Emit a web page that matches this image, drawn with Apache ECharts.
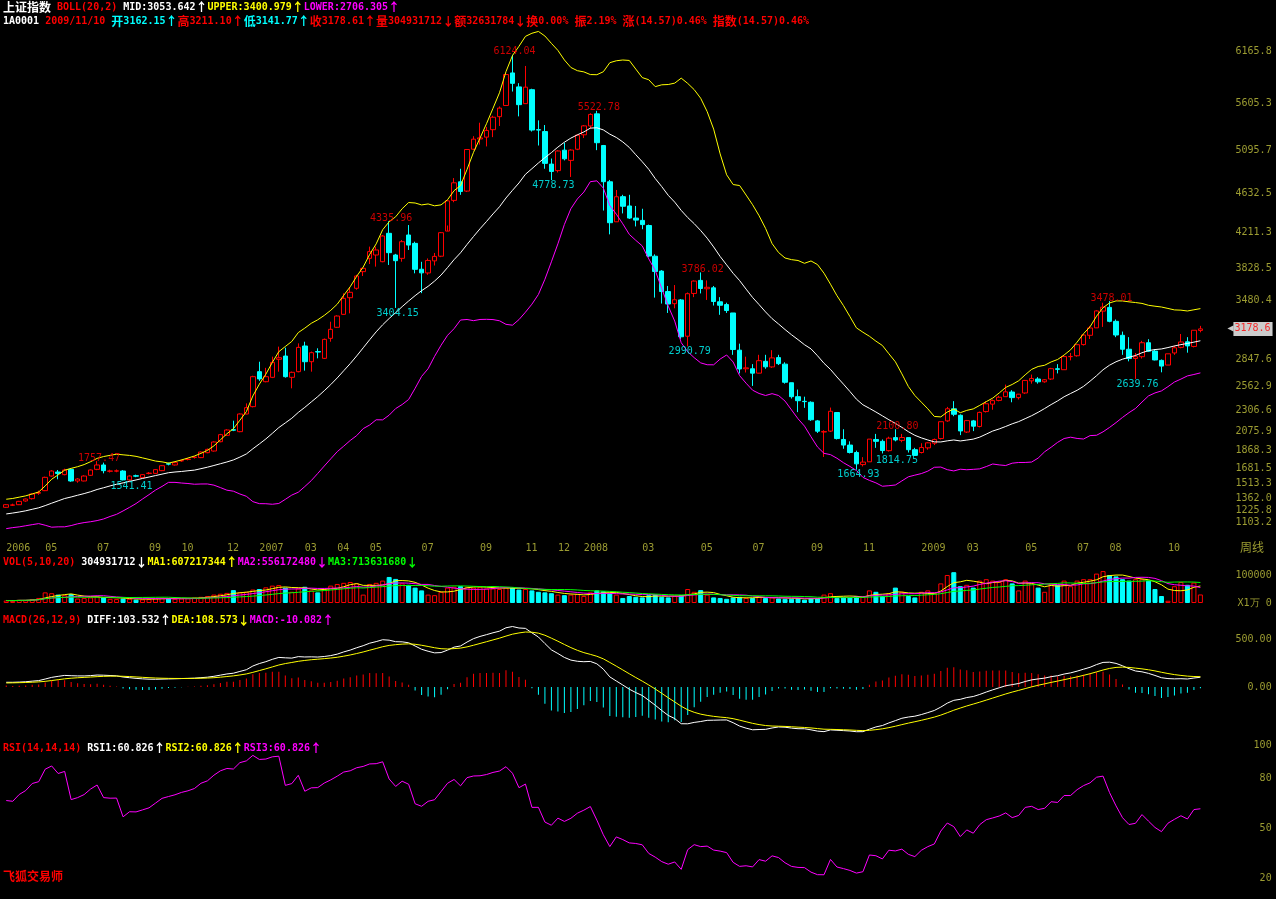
<!DOCTYPE html>
<html><head><meta charset="utf-8">
<script src="https://cdn.jsdelivr.net/npm/echarts@6/dist/echarts.min.js"></script>
<style>html,body{margin:0;padding:0;background:#000;overflow:hidden}#c{width:1276px;height:899px}</style>
</head><body><div id="c"></div>
<script>
// ---------------- data (weekly candles, 上证指数) ----------------
const weekDates = [
'2006-03-20','2006-03-27','2006-04-03','2006-04-10','2006-04-17','2006-04-24','2006-05-08','2006-05-15','2006-05-22','2006-05-29',
'2006-06-05','2006-06-12','2006-06-19','2006-06-26','2006-07-03','2006-07-10','2006-07-17','2006-07-24','2006-07-31','2006-08-07',
'2006-08-14','2006-08-21','2006-08-28','2006-09-04','2006-09-11','2006-09-18','2006-09-25','2006-10-09','2006-10-16','2006-10-23',
'2006-10-30','2006-11-06','2006-11-13','2006-11-20','2006-11-27','2006-12-04','2006-12-11','2006-12-18','2006-12-25','2007-01-01',
'2007-01-08','2007-01-15','2007-01-22','2007-01-29','2007-02-05','2007-02-12','2007-02-26','2007-03-05','2007-03-12','2007-03-19',
'2007-03-26','2007-04-02','2007-04-09','2007-04-16','2007-04-23','2007-04-30','2007-05-07','2007-05-14','2007-05-21','2007-05-28',
'2007-06-04','2007-06-11','2007-06-18','2007-06-25','2007-07-02','2007-07-09','2007-07-16','2007-07-23','2007-07-30','2007-08-06',
'2007-08-13','2007-08-20','2007-08-27','2007-09-03','2007-09-10','2007-09-17','2007-09-24','2007-10-08','2007-10-15','2007-10-22',
'2007-10-29','2007-11-05','2007-11-12','2007-11-19','2007-11-26','2007-12-03','2007-12-10','2007-12-17','2007-12-24','2007-12-31',
'2008-01-07','2008-01-14','2008-01-21','2008-01-28','2008-02-04','2008-02-11','2008-02-18','2008-02-25','2008-03-03','2008-03-10',
'2008-03-17','2008-03-24','2008-03-31','2008-04-07','2008-04-14','2008-04-21','2008-04-28','2008-05-05','2008-05-12','2008-05-19',
'2008-05-26','2008-06-02','2008-06-09','2008-06-16','2008-06-23','2008-06-30','2008-07-07','2008-07-14','2008-07-21','2008-07-28',
'2008-08-04','2008-08-11','2008-08-18','2008-08-25','2008-09-01','2008-09-08','2008-09-15','2008-09-22','2008-10-06','2008-10-13',
'2008-10-20','2008-10-27','2008-11-03','2008-11-10','2008-11-17','2008-11-24','2008-12-01','2008-12-08','2008-12-15','2008-12-22',
'2008-12-29','2009-01-05','2009-01-12','2009-01-19','2009-02-02','2009-02-09','2009-02-16','2009-02-23','2009-03-02','2009-03-09',
'2009-03-16','2009-03-23','2009-03-30','2009-04-06','2009-04-13','2009-04-20','2009-04-27','2009-05-04','2009-05-11','2009-05-18',
'2009-05-25','2009-06-01','2009-06-08','2009-06-15','2009-06-22','2009-06-29','2009-07-06','2009-07-13','2009-07-20','2009-07-27',
'2009-08-03','2009-08-10','2009-08-17','2009-08-24','2009-08-31','2009-09-07','2009-09-14','2009-09-21','2009-09-28','2009-10-05',
'2009-10-12','2009-10-19','2009-10-26','2009-11-02','2009-11-09'];

const opens = [
1261,1283,1289,1329,1354,1412,1440,1597,1640,1612, 1669,1544,1544,1605,1669,1716,1648,1650,1651,1555,
1600,1580,1625,1626,1655,1730,1716,1760,1775,1797, 1795,1848,1866,1966,2035,2095,2074,2264,2343,2719,
2611,2658,2852,2887,2658,2719,2995,2826,2935,2862, 3077,3196,3335,3514,3615,3794,3937,3973,3901,4206,
3973,3937,4188,4098,3820,3780,3910,3960,4230,4560, 4760,4660,5110,5220,5240,5320,5460,5580,5930,5780,
5600,5750,5320,5300,4950,4880,5100,4990,5110,5265, 5360,5490,5150,4760,4330,4600,4500,4370,4345,4290,
3960,3800,3580,3450,3490,3100,3560,3700,3610,3620, 3470,3440,3350,2950,2750,2750,2703,2830,2770,2870,
2800,2600,2450,2400,2390,2190,2070,2080,2280,1990, 1930,1850,1720,1750,1990,1970,1870,2010,1980,2010,
1880,1850,1900,1950,2000,2190,2320,2250,2070,2190, 2130,2290,2370,2410,2450,2500,2440,2490,2620,2640,
2610,2640,2750,2740,2880,2890,3010,3110,3190,3370, 3410,3260,3110,2960,2860,2880,3030,2940,2840,2790,
2920,2980,3040,2990,3162.15];
const highs = [
1295,1300,1330,1355,1410,1440,1590,1660,1662,1676, 1676,1575,1605,1668,1757.47,1741,1665,1668,1660,1605,
1612,1618,1640,1672,1715,1742,1748,1775,1790,1810, 1862,1892,1970,2050,2100,2192,2270,2378,2675,2826,
2760,2880,2988,2977,2720,3023,3041,2935,2970,3075, 3256,3325,3561,3625,3760,3835,4063,4063,4188,4335.96,
3985,4134,4295,4116,3900,3936,3995,4220,4565,4800, 4900,5110,5250,5395,5350,5470,5570,5925,6124.04,5820,
6005,5760,5420,5370,5010,5100,5180,5110,5270,5370, 5497,5522.78,5156,4780,4672,4620,4620,4500,4470,4300,
3980,3810,3640,3650,3500,3570,3700,3786.02,3700,3640, 3520,3460,3350,3020,2880,2800,2900,2900,2950,2900,
2820,2600,2527,2450,2400,2200,2090,2333,2280,2100, 1970,1870,1800,1995,2050,1990,2020,2100.80,2050,2010,
1900,1950,1960,2000,2181,2340,2402,2260,2200,2200, 2290,2400,2420,2460,2580,2520,2480,2630,2688,2660,
2640,2760,2800,2890,2920,3010,3120,3210,3380,3460, 3478.01,3280,3150,3090,2920,3050,3068,2960,2850,2911,
3000,3124,3090,3164,3211.10];
const lows = [
1255,1275,1285,1320,1345,1395,1435,1590,1562,1605, 1535,1525,1540,1598,1660,1626,1635,1638,1550,1541.41,
1585,1575,1615,1620,1650,1712,1710,1750,1765,1785, 1790,1842,1860,1960,2030,2080,2068,2260,2335,2620,
2605,2650,2719,2655,2540,2712,2730,2719,2862,2855, 3041,3190,3330,3346,3600,3747,3876,3848,3895,3866,
3404.15,3901,4027,3776,3563,3760,3860,3950,4290,4540, 4620,4650,5100,5160,5140,5240,5360,5580,5730,5463,
5600,5300,5150,4900,4778.73,4860,4990,4812,5100,5230, 5330,5100,4451,4195,4330,4420,4360,4280,4250,3950,
3515,3451,3350,3400,3071,2990.79,3520,3560,3490,3430, 3330,3350,2900,2700,2710,2566,2700,2750,2760,2790,
2590,2430,2284,2330,2190,2060,1802,2070,1990,1890, 1840,1664.93,1700,1750,1900,1840,1860,1970,1960,1850,
1814.75,1840,1880,1930,1990,2180,2240,2037,2060,2080, 2120,2280,2310,2400,2450,2390,2420,2480,2590,2590,
2600,2630,2700,2740,2840,2880,3000,3070,3190,3200, 3250,3090,2900,2830,2639.76,2860,2930,2840,2712,2790,
2900,2970,2923,2980,3141.77];
const closes = [
1289,1287,1325,1350,1404,1420,1583,1651,1625,1662, 1544,1565,1597,1662,1716,1655,1652,1653,1555,1597,
1596,1612,1628,1666,1708,1725,1741,1763,1778,1800, 1855,1884,1963,2042,2092,2090,2264,2332,2665,2641,
2665,2819,2869,2665,2712,2980,2826,2923,2930,3066, 3174,3317,3507,3572,3747,3830,4009,4027,4177,3998,
3912,4116,4080,3819,3781,3914,3958,4213,4555,4749, 4656,5107,5218,5232,5312,5454,5552,5913,5818,5589,
5777,5316,5316,4958,4871,5091,5007,5101,5261,5361, 5484,5180,4761,4320,4599,4497,4370,4348,4300,3962,
3796,3580,3446,3492,3094,3557,3693,3613,3626,3473, 3433,3376,2957,2748,2760,2703,2837,2771,2867,2805,
2605,2450,2407,2397,2202,2079,2075,2293,2000,1930, 1850,1728,1747,1994,1970,1871,2004,1985,2011,1880,
1820,1904,1954,1990,2181,2320,2261,2082,2193,2133, 2281,2374,2408,2444,2502,2440,2477,2625,2646,2610,
2632,2751,2744,2881,2882,3009,3113,3189,3372,3412, 3260,3113,2960,2860,2880,3030,2939,2845,2779,2911,
2976,3038,2996,3164.04,3178.61];
// weekly volume, unit 万
const volumes = [
9000,8000,11000,10000,14000,18000,38000,35000,30000,28000, 32000,16000,18000,20000,24000,20000,15000,14000,16000,15000,
12000,13000,14000,17000,19000,17000,15000,16000,17000,20000, 22000,25000,30000,33000,36000,46000,38000,40000,48000,50000,
56000,62000,64000,55000,40000,52000,58000,45000,38000,50000, 62000,68000,72000,75000,70000,30000,68000,72000,80000,93000,
86000,70000,65000,55000,45000,30000,28000,40000,55000,58000, 60000,58000,55000,58000,52000,52000,50000,55000,56000,48000,
50000,45000,40000,38000,35000,30000,28000,30000,32000,25000, 38000,45000,42000,35000,30000,18000,25000,22000,20000,28000,
30000,22000,20000,25000,28000,50000,40000,46000,30000,20000, 18000,15000,20000,22000,18000,18000,22000,18000,20000,16000,
15000,15000,17000,12000,18000,16000,30000,35000,18000,22000, 20000,25000,22000,45000,40000,25000,35000,55000,40000,25000,
20000,40000,45000,38000,70000,100000,110000,60000,65000,55000, 80000,85000,80000,75000,85000,70000,45000,80000,70000,55000,
40000,70000,65000,80000,60000,80000,85000,85000,105000,114000, 100000,95000,85000,80000,85000,85000,80000,50000,25000,8000,
60000,75000,65000,73000,30493];
// estimated weekly closes before the first drawn week; they only seed BOLL/MACD/RSI at the left edge
const warmupCloses = [1040,1030,1020,1075,1100,1150,1140,1155,1165,1150,1170,1155,1130,1110,1095,1092,1105,1090,
1080,1099,1110,1135,1120,1161,1210,1195,1240,1258,1240,1280,1255,1299,1260,1275];

const peakIdx = [14, 59, 78, 91, 107, 137, 170];
const troughIdx = [19, 60, 84, 105, 131, 140, 174];

const xTickIdx  = [0,6,14,22,27,34,39,46,51,56,64,73,80,85,89,98,107,115,124,132,141,148,157,165,170,179];
const xTickText = ['2006','05','07','09','10','12','2007','03','04','05','07','09','11','12','2008','03','05','07','09','11','2009','03','05','07','08','10'];
const priceTicks = [6165.8,5605.3,5095.7,4632.5,4211.3,3828.5,3480.4,2847.6,2562.9,2306.6,2075.9,1868.3,1681.5,1513.3,1362.0,1225.8,1103.2];
const volTicks = [0, 100000];
const macdTicks = [500, 0];
const rsiTicks = [20, 50, 80, 100];

// ---------------- indicators (BOLL(20,2), VOL MA(5,10,20), MACD(26,12,9), RSI(14)) ----------------
const N = closes.length, W = warmupCloses.length;
const allC = warmupCloses.concat(closes);
function maAt(arr, n, j){ let s=0,c=0; for(let k=Math.max(0,j-n+1);k<=j;k++){s+=arr[k];c++;} return s/c; }
const bollMid=[], bollUp=[], bollLo=[];
for (let i=0;i<N;i++){ const j=i+W; const m=maAt(allC,20,j); let v=0; for(let k=j-19;k<=j;k++) v+=(allC[k]-m)*(allC[k]-m); const sd=Math.sqrt(v/19); bollMid.push(m); bollUp.push(m+2*sd); bollLo.push(m-2*sd); }
function ema(arr,n){ const o=[arr[0]]; for(let k=1;k<arr.length;k++) o.push((2*arr[k]+(n-1)*o[k-1])/(n+1)); return o; }
const e12=ema(allC,12), e26=ema(allC,26);
const diffAll=e12.map((v,k)=>v-e26[k]); const deaAll=ema(diffAll,9);
const diff=diffAll.slice(W), dea=deaAll.slice(W), macd=diff.map((v,k)=>2*(v-dea[k]));
let su=0, sa=0; const rsiAll=[50];
for (let k=1;k<allC.length;k++){ const d=allC[k]-allC[k-1]; su=(Math.max(d,0)+13*su)/14; sa=(Math.abs(d)+13*sa)/14; rsiAll.push(sa?su/sa*100:50); }
const rsi = rsiAll.slice(W);
const vma5=[],vma10=[],vma20=[];
for (let i=0;i<N;i++){ vma5.push(maAt(volumes,5,i)); vma10.push(maAt(volumes,10,i)); vma20.push(maAt(volumes,20,i)); }

// ---------------- styling helpers ----------------
const MONO = "'DejaVu Sans Mono','Liberation Mono',monospace";
const CJK = "'Noto Sans CJK SC','DejaVu Sans',sans-serif";
const OLIVE = '#9c9c32';
const COL = {w:'#ffffff', r:'#ff0000', y:'#ffff00', m:'#ff00ff', c:'#00ffff', g:'#00ff00', o:OLIVE};
const RICH = {};
for (const k in COL){ RICH['a'+k]={color:COL[k],fontSize:10,fontFamily:MONO,lineHeight:13}; RICH['h'+k]={color:COL[k],fontSize:12,fontFamily:CJK,lineHeight:13}; }
const WIDE = /([\u2190-\u21ff\u3000-\u9fff\uff00-\uffef]+)|([^\u2190-\u21ff\u3000-\u9fff\uff00-\uffef]+)/g;
function seg(t,k){ return t.replace(WIDE,(m,a,b)=> a ? '{h'+k+'|'+a+'}' : '{a'+k+'|'+b+'}'); }
function head(top, parts){ return {left:3, top:top, padding:0, text: parts.map(p=>seg(p[0],p[1])).join(''), textStyle:{rich:RICH}}; }

const GL = 3, GR = 72.35;
const grids = [
  {left:GL, right:GR, top:30, height:508},
  {left:GL, right:GR, top:565, height:38},
  {left:GL, right:GR, top:615, height:125},
  {left:GL, right:GR, top:745, height:133}
];
const tickSet = new Set(xTickIdx);
const xAxes = grids.map((g,gi)=>({
  type:'category', gridIndex:gi, data:weekDates, boundaryGap:true,
  axisLine:{show:false}, axisTick:{show:false}, splitLine:{show:false},
  axisLabel: gi===0 ? {show:true, interval:(idx)=>tickSet.has(idx), formatter:(v,idx)=>xTickText[xTickIdx.indexOf(idx)], color:OLIVE, fontSize:10, fontFamily:MONO, align:'left', margin:5} : {show:false}
}));
function yAx(gi, min, max, ticks, fmt){
  return {type:'value', gridIndex:gi, position:'right', min:min, max:max, scale:true,
    axisLine:{show:false}, axisTick:{show:false}, splitLine:{show:false},
    axisLabel:{show:true, customValues:ticks, formatter:fmt, color:OLIVE, fontSize:10, fontFamily:MONO, align:'right', margin:68}};
}
const yAxes = [
  yAx(0, 931.04, 6391.53, priceTicks, v=>v.toFixed(1)),
  yAx(1, 0, 135714, volTicks, v=> v===0 ? 'X1万 0' : String(Math.round(v))),
  yAx(2, -552.08, 750, macdTicks, v=>v.toFixed(2)),
  yAx(3, 20, 100, rsiTicks, v=>String(v))
];

const candleData = closes.map((c,i)=>[opens[i], c, lows[i], highs[i]]);
const volData = volumes.map((v,i)=>({value:v, itemStyle: closes[i]>=opens[i] ? {color:'#000', borderColor:'#ff0000', borderWidth:1} : {color:'#00ffff', borderColor:'#00ffff', borderWidth:1}}));
const macdData = macd.map(v=>({value:v, itemStyle:{color: v>=0 ? '#ff0000' : '#00ffff'}}));
function line(name, data, color, xi, yi){ return {name, type:'line', data, xAxisIndex:xi, yAxisIndex:yi, symbol:'none', silent:true, lineStyle:{color, width:1}, itemStyle:{color}, z:3}; }
const lblFont = {fontSize:10, fontFamily:MONO};

const option = {
  backgroundColor:'#000',
  animation:false,
  title:[
    head(1, [['上证指数','w'],[' ','w'],['BOLL(20,2)','r'],[' ','w'],['MID:3053.642↑','w'],['UPPER:3400.979↑','y'],['LOWER:2706.305↑','m']]),
    head(14.5, [['1A0001','w'],[' ','w'],['2009/11/10','r'],[' ','w'],['开3162.15↑','c'],['高3211.10↑','r'],['低3141.77↑','c'],['收3178.61↑','r'],['量304931712↓','r'],['额32631784↓','r'],['换0.00% ','r'],['振2.19% ','r'],['涨(14.57)0.46% ','r'],['指数(14.57)0.46%','r']]),
    head(555.5, [['VOL(5,10,20)','r'],[' ','w'],['304931712↓','w'],['MA1:607217344↑','y'],['MA2:556172480↓','m'],['MA3:713631680↓','g']]),
    head(613.5, [['MACD(26,12,9)','r'],[' ','w'],['DIFF:103.532↑','w'],['DEA:108.573↓','y'],['MACD:-10.082↑','m']]),
    head(741.5, [['RSI(14,14,14)','r'],[' ','w'],['RSI1:60.826↑','w'],['RSI2:60.826↑','y'],['RSI3:60.826↑','m']]),
    head(869.5, [['飞狐交易师','r']])
  ],
  graphic:[{type:'text', right:12, top:541, style:{text:'周线', fill:OLIVE, font:"12px 'Noto Sans CJK SC'"}}],
  grid:grids, xAxis:xAxes, yAxis:yAxes,
  series:[
    {type:'candlestick', xAxisIndex:0, yAxisIndex:0, data:candleData, barWidth:5, silent:true,
     itemStyle:{color:'#000', color0:'#00ffff', borderColor:'#ff0000', borderColor0:'#00ffff', borderWidth:1}},
    line('UPPER', bollUp, '#ffff00', 0, 0),
    line('MID', bollMid, '#ffffff', 0, 0),
    line('LOWER', bollLo, '#ff00ff', 0, 0),
    {type:'scatter', xAxisIndex:0, yAxisIndex:0, symbolSize:0, silent:true, z:4, data:peakIdx.map(i=>[i, highs[i]]),
     label:{show:true, position:'top', distance:0, offset:[2,2], color:'#ff0000', ...lblFont, formatter:p=>p.value[1].toFixed(2)}},
    {type:'scatter', xAxisIndex:0, yAxisIndex:0, symbolSize:0, silent:true, z:4,
     data:troughIdx.map(i=> i===140 ? {value:[i, lows[i]], label:{offset:[-18,0]}} : [i, lows[i]]),
     label:{show:true, position:'bottom', distance:0, offset:[2,0], color:'#00ffff', ...lblFont, formatter:p=>p.value[1].toFixed(2)}},
    // current-price marker on the right axis
    {type:'scatter', xAxisIndex:0, yAxisIndex:0, symbolSize:0, silent:true, z:5, clip:false, data:[[N-1, closes[N-1]]],
     label:{show:true, position:'right', distance:27, formatter:p=>'{t|◀}{b|'+p.value[1].toFixed(1)+'}',
       rich:{t:{color:'#ffffff', fontSize:10, fontFamily:MONO}, b:{color:'#ff0000', backgroundColor:'#ffffff', fontSize:10, fontFamily:MONO, padding:[2,2,2,1]}}}},
    {type:'bar', xAxisIndex:1, yAxisIndex:1, data:volData, barWidth:5, silent:true},
    line('MA1', vma5, '#ffff00', 1, 1),
    line('MA2', vma10, '#ff00ff', 1, 1),
    line('MA3', vma20, '#00ff00', 1, 1),
    {type:'bar', xAxisIndex:2, yAxisIndex:2, data:macdData, barWidth:1, silent:true},
    line('DIFF', diff, '#ffffff', 2, 2),
    line('DEA', dea, '#ffff00', 2, 2),
    // RSI1 = RSI2 = RSI3 (all 14); only the top (magenta) line is visible in the reference
    line('RSI3', rsi, '#ff00ff', 3, 3)
  ]
};
const chart = echarts.init(document.getElementById('c'), null, {renderer:'canvas'});
chart.setOption(option);
</script>
</body></html>
